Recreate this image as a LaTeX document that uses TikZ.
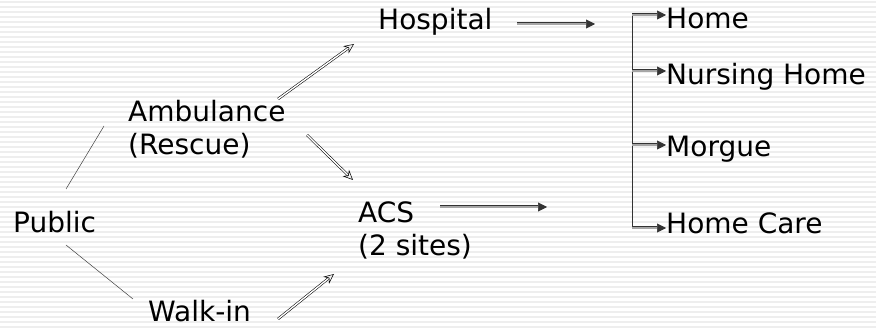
\documentclass[tikz,border=0pt]{standalone}
\usepackage{fontspec}
\setmainfont{DejaVu Sans}
\usetikzlibrary{arrows.meta}
\begin{document}
\begin{tikzpicture}
[x=1pt,y=-1pt,
  textDecorate/.style={anchor=west,inner sep=0pt,align=left,
    font=\fontsize{28}{33}\selectfont},
  lineDecorate/.style={-,draw=black!75,line width=0.5pt},
  diagDecorate/.style={-{Stealth[length=10pt,width=9pt,open]},draw=black,
    double=white,double distance=1.4pt,line width=0.55pt},
  flowDecorate/.style={-{Triangle[length=9pt,width=9pt]},draw=black!80,
    double=gray!70,double distance=1.8pt,line width=0.6pt}]
%% background stripes
\useasboundingbox (0,0) rectangle (876,328);
\fill[white] (0,0) rectangle (876,328);
\foreach \y in {2,7,...,327}
{
  \draw[gray!13,line width=1.3pt] (0,\y) -- (876,\y);
}
%% nodes
\node (public) at (13,222) [textDecorate] {Public};
\node (ambulance) at (128,129) [textDecorate] {Ambulance\\(Rescue)};
\node (walkin) at (148,311) [textDecorate] {Walk-in};
\node (hospital) at (378,22) [textDecorate] {Hospital};
\node (acs) at (358,230) [textDecorate] {ACS\\(2 sites)};
\foreach \nodename/\y/\txt in {
  home/18/Home, nursing/77/Nursing Home, morgue/149/Morgue, homecare/223/Home Care}
{
  \node (\nodename) at (666,\y) [textDecorate] {\txt};
}
%% connector end points
\coordinate (pa1) at (66,189);   \coordinate (pa2) at (104,126);
\coordinate (pw1) at (66,245);   \coordinate (pw2) at (133,299);
\coordinate (ah1) at (278,99);   \coordinate (ah2) at (354,44);
\coordinate (ac1) at (307,135);  \coordinate (ac2) at (353,180);
\coordinate (wa1) at (278,319);  \coordinate (wa2) at (334,274);
\coordinate (hs1) at (517,24);   \coordinate (hs2) at (595,24);
\coordinate (as1) at (440,207);  \coordinate (as2) at (547,207);
\coordinate (btop) at (632,14);  \coordinate (bbot) at (632,229);
%% edges
\draw[lineDecorate] (pa1) -- (pa2);
\draw[lineDecorate] (pw1) -- (pw2);
\draw[diagDecorate] (ah1) -- (ah2);
\draw[diagDecorate] (ac1) -- (ac2);
\draw[diagDecorate] (wa1) -- (wa2);
\draw[flowDecorate] (hs1) -- (hs2);
\draw[flowDecorate] (as1) -- (as2);
\draw[draw=black!80,line width=1pt] (btop) -- (bbot);
\foreach \endnode/\y in {home/15, nursing/71, morgue/145, homecare/228}
{
  \draw[flowDecorate] (632,\y) -- (\endnode.west |- 0,\y);
}
\end{tikzpicture}
\end{document}
